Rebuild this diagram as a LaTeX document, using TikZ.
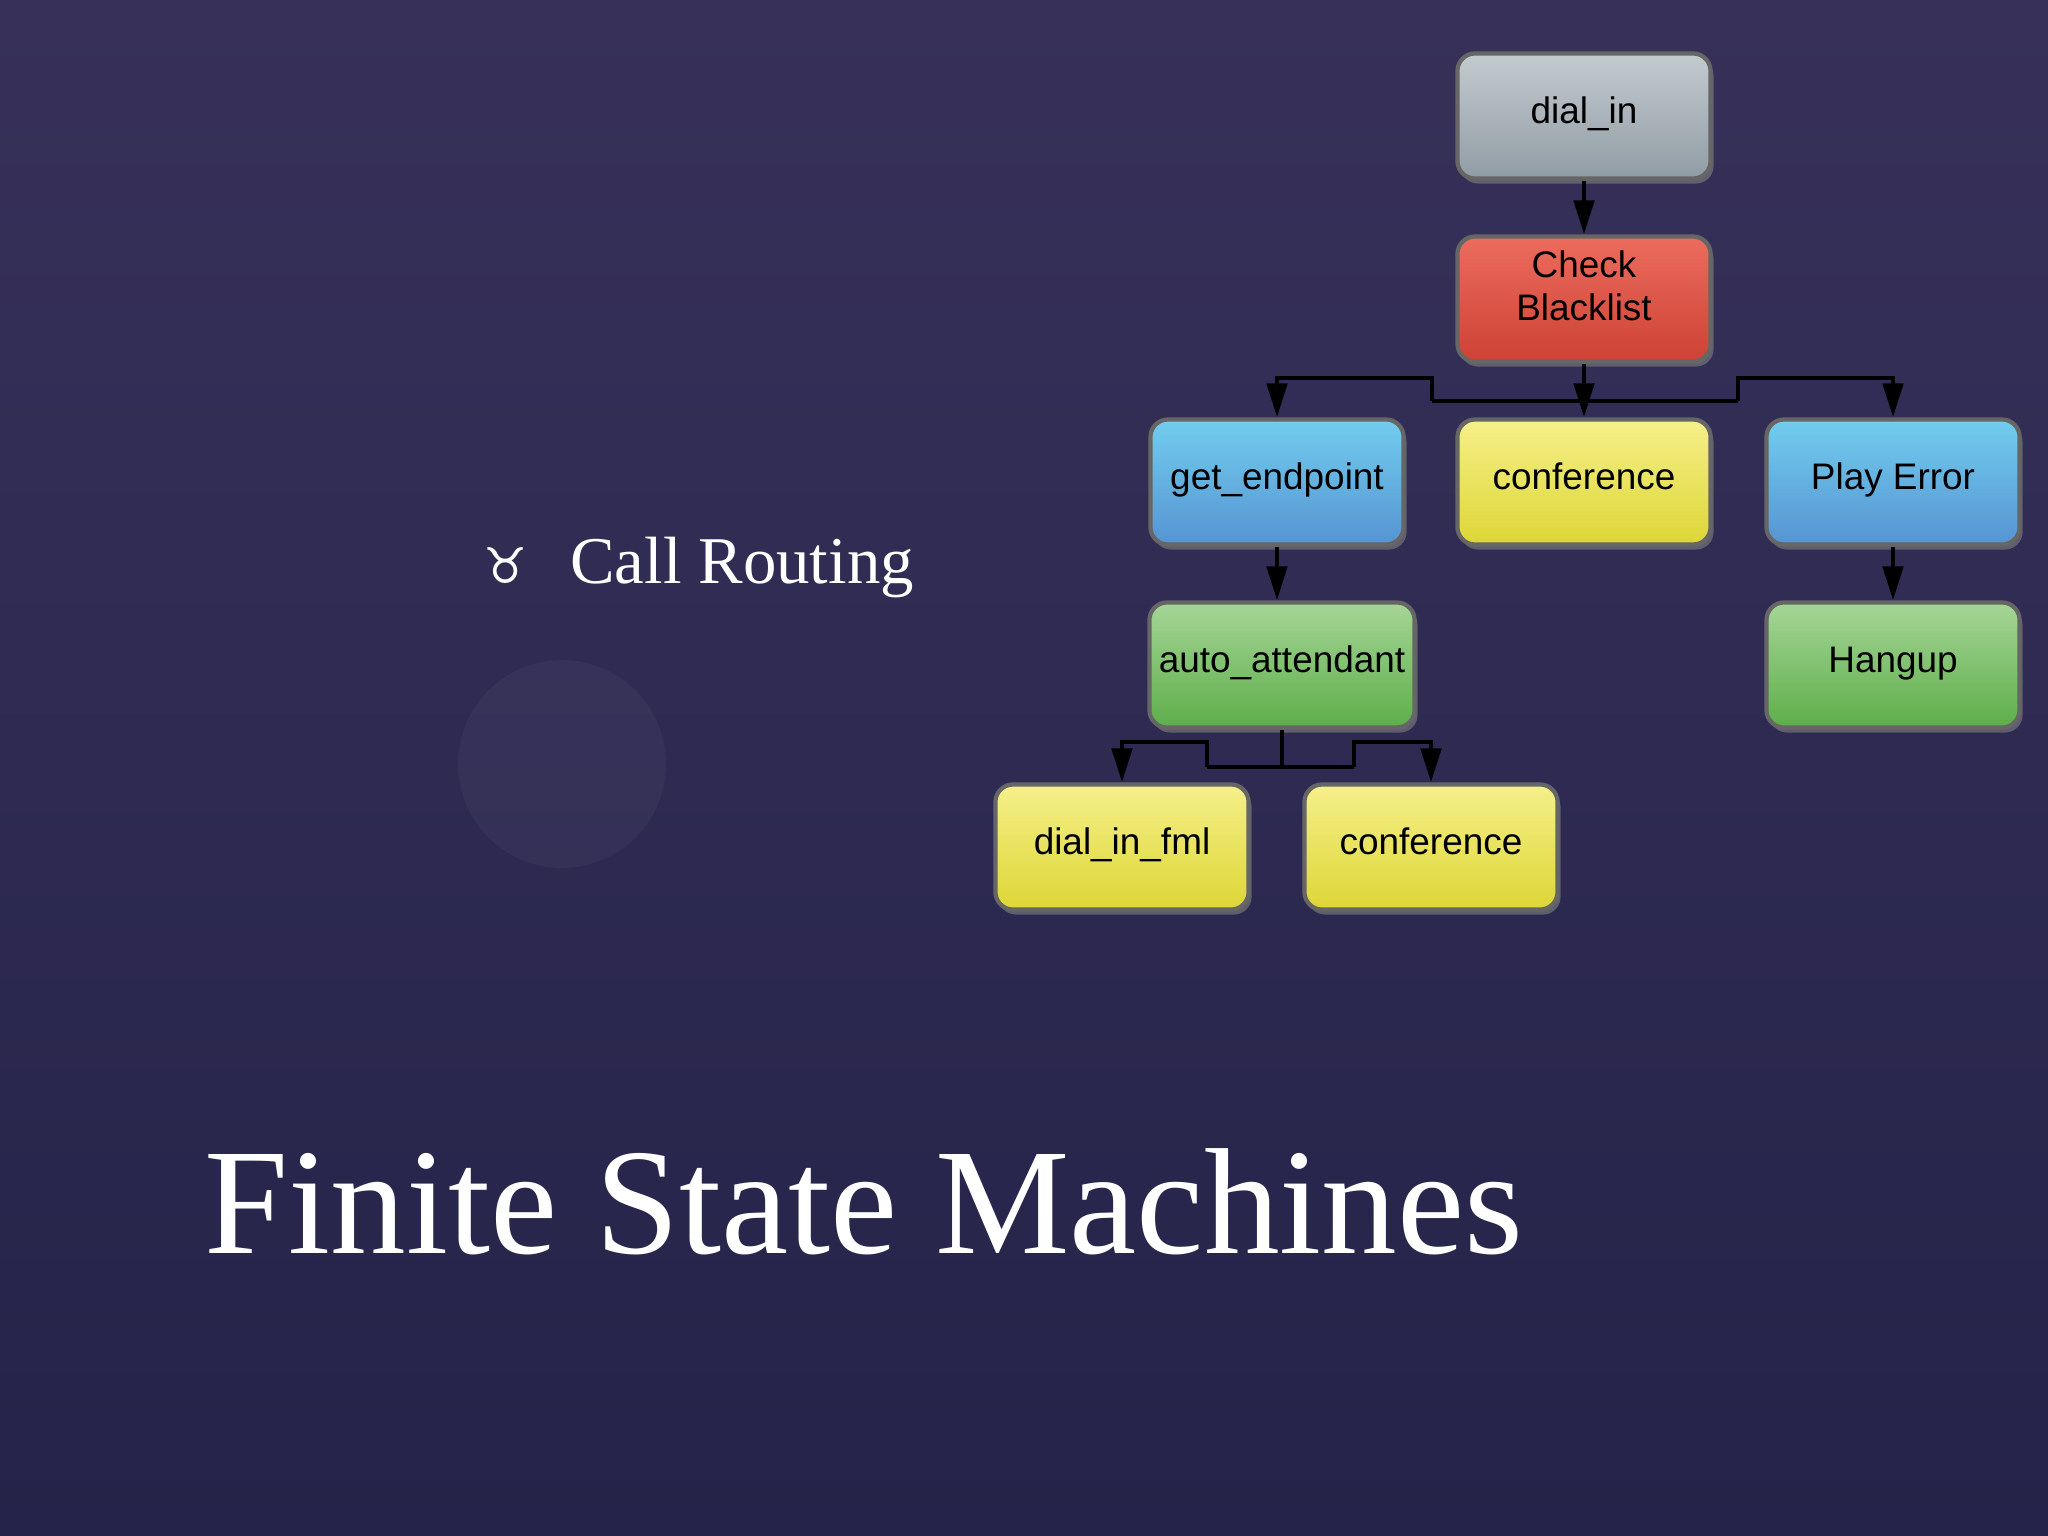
\documentclass[tikz,border=0pt]{standalone}
\usepackage{fontspec}
\newfontfamily\boxfont{Liberation Sans}
\newfontfamily\symfont{DejaVu Sans}
\setmainfont{Liberation Serif}
\usetikzlibrary{arrows.meta,shadows}
\definecolor{bgtop}{HTML}{37315A}
\definecolor{bgbot}{HTML}{252349}
\definecolor{gt}{HTML}{C4CBCF}\definecolor{gb}{HTML}{909CA4}
\definecolor{rt}{HTML}{EC6C5E}\definecolor{rb}{HTML}{CD4234}
\definecolor{yt}{HTML}{F5F08A}\definecolor{yb}{HTML}{DDD636}
\definecolor{bt}{HTML}{72CDEE}\definecolor{bb}{HTML}{5694D2}
\definecolor{nt}{HTML}{A6D597}\definecolor{nb}{HTML}{5DAE4A}
\tikzset{
  st/.style={draw=black!60, line width=1.2pt, rounded corners=5pt, minimum width=2.53cm, minimum height=1.25cm, inner sep=0pt, font=\boxfont\fontsize{10.5}{12.5}\selectfont, align=center, text height=7pt, text depth=2.5pt, drop shadow={shadow xshift=0.03cm, shadow yshift=-0.05cm, opacity=0.6}},
  grey/.style={st, top color=gt, bottom color=gb},
  red/.style={st, top color=rt, bottom color=rb},
  yel/.style={st, top color=yt, bottom color=yb},
  blu/.style={st, top color=bt, bottom color=bb},
  grn/.style={st, top color=nt, bottom color=nb},
  con/.style={line width=1.4pt, -{Triangle[length=0.34cm,width=0.2cm]}},
  ln/.style={line width=1.4pt},
}
\begin{document}
\begin{tikzpicture}[x=0.01cm,y=-0.01cm]
\shade[top color=bgtop, bottom color=bgbot] (0,0) rectangle (2048,1536);
\useasboundingbox (0,0) rectangle (2048,1536);
\fill[white, opacity=0.035] (562,764) circle (104);
\node[grey] (dialin) at (1584,116) {dial\_in};
\node[red, text height=15pt] (check) at (1584,299) {Check\\Blacklist};
\node[blu] (getep) at (1277,482) {get\_endpoint};
\node[yel] (conf1) at (1584,482) {conference};
\node[blu] (perr) at (1893,482) {Play Error};
\node[grn, minimum width=2.65cm] (auto) at (1282,665) {auto\_attendant};
\node[grn] (hang) at (1893,665) {Hangup};
\node[yel] (fml) at (1122,847) {dial\_in\_fml};
\node[yel] (conf2) at (1431,847) {conference};
\coordinate (jl) at (1432,401);
\coordinate (jr) at (1738,401);
\draw[con] (dialin) -- (check);
\draw[con] (check) -- (conf1);
\draw[ln] (jl) -- (jr);
\draw[con] (jl) |- (1277,378) -- (getep.north);
\draw[con] (jr) |- (1893,378) -- (perr.north);
\draw[con] (getep) -- (auto.north -| getep);
\draw[con] (perr) -- (hang);
\coordinate (kl) at (1207,767);
\coordinate (kr) at (1354,767);
\draw[ln] (auto.south) -- (1282,767);
\draw[ln] (kl) -- (kr);
\draw[con] (kl) |- (1122,742) -- (fml.north);
\draw[con] (kr) |- (1431,742) -- (conf2.north);
\node[anchor=base west, text=white, font=\fontsize{19}{22}\selectfont] (sub) at (558,583) {Call Routing};
\node[anchor=base east, text=white, font=\symfont\fontsize{14}{16}\selectfont] (bul) at (540,583) {♉};
\node[anchor=base west, text=white, font=\fontsize{43}{50}\selectfont] (title) at (192,1253) {Finite State Machines};
\end{tikzpicture}
\end{document}
